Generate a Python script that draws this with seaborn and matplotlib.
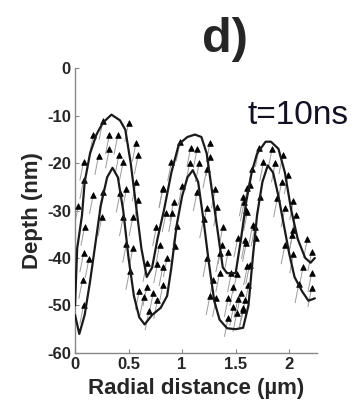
import matplotlib
matplotlib.use("Agg")
import matplotlib.pyplot as plt
import numpy as np
import pandas as pd
import seaborn as sns

# surface profiles (radial distance in um, depth in nm)
upper_x = [0.0, 0.02, 0.065, 0.09, 0.14, 0.2, 0.26, 0.34, 0.42, 0.47, 0.52,
           0.57, 0.62, 0.67, 0.72, 0.77, 0.83, 0.9, 0.97, 1.05, 1.12, 1.18,
           1.23, 1.28, 1.33, 1.38, 1.42, 1.5, 1.55, 1.6, 1.65, 1.7, 1.78,
           1.83, 1.9, 1.96, 2.02, 2.08, 2.15, 2.2, 2.24]
upper_y = [-50, -38, -31, -24, -18, -14, -11.5, -9.8, -11, -13, -20,
           -29, -38, -44, -42, -36, -30, -22, -16, -14.5, -14, -14.5,
           -18, -26, -34, -42, -43.2, -43.2, -36, -28, -22, -18, -15.5,
           -15.5, -17, -22, -30, -36, -40, -41, -40]

lower_x = [0.0, 0.04, 0.09, 0.14, 0.19, 0.24, 0.3, 0.35, 0.4, 0.45, 0.5,
           0.55, 0.6, 0.65, 0.72, 0.8, 0.86, 0.9, 0.95, 1.0, 1.05, 1.1,
           1.15, 1.2, 1.25, 1.3, 1.35, 1.42, 1.5, 1.57, 1.62, 1.66, 1.7,
           1.75, 1.8, 1.85, 1.9, 1.95, 2.0, 2.05, 2.12, 2.18, 2.24]
lower_y = [-52, -56, -52, -45, -37, -29, -23, -21, -23, -30, -40,
           -48, -52.5, -54, -52, -50.5, -48, -42, -33, -27, -23, -21.5,
           -24, -32, -41, -49, -53, -54.8, -55, -54.7, -50, -40, -31,
           -24, -20.5, -22, -27, -33, -39, -44, -47, -49, -48.5]

# tracked points
pts_x = [0.26, 0.50, 0.17, 0.32, 0.40, 0.57, 0.32, 0.41, 0.22, 0.45, 0.08,
         0.59, 0.08, 0.26, 0.17, 0.48, 0.42, 0.57, 0.59, 0.03, 0.25, 0.45,
         0.54, 0.09, 0.82, 0.85,
         0.08, 0.13, 0.07, 0.08, 0.48, 0.54, 0.76, 0.79, 0.51, 0.67, 0.77,
         0.60, 0.67, 0.73, 0.64, 0.82, 0.69, 0.77,
         0.98, 1.08, 1.14, 1.26, 1.07, 1.16, 0.90, 1.23, 1.26, 0.82, 1.00,
         1.14, 1.31, 0.92, 0.91, 1.23, 1.33, 1.20, 1.38, 0.95, 1.57, 1.61,
         1.60,
         0.93, 0.86, 0.82, 1.37, 1.35, 1.43, 1.52, 1.60, 1.23, 1.35, 1.46,
         1.51, 1.29, 1.61, 1.48, 1.32, 1.43, 1.55, 1.52, 1.48, 1.57, 1.51,
         1.43, 1.26,
         1.72, 1.84, 1.94, 1.76, 1.87, 1.65, 1.99, 1.63, 1.93, 1.73, 1.89,
         2.04, 1.58, 1.96, 1.66, 2.06, 2.04, 1.61,
         1.68, 1.59, 1.69, 1.63, 1.62, 1.59, 1.57, 2.03, 2.17, 1.96, 2.04,
         2.21, 2.13, 2.21, 2.09, 2.21]
pts_y = [-11.1, -11.5, -14.1, -14.1, -14.1, -15.7, -17.1, -18.3, -18.5,
         -19.7, -19.7, -18.3, -23.6, -26.1, -26.7, -25.5, -26.4, -24.0,
         -27.8, -29.1, -31.4, -31.4, -31.4, -33.4, -25.5, -30.5,
         -39.0, -40.2, -44.6, -49.9, -37.0, -38.0, -33.5, -37.3, -42.7,
         -41.0, -41.3, -46.9, -46.1, -47.4, -48.2, -45.7, -51.2, -48.8,
         -15.6, -16.8, -17.1, -15.8, -20.0, -20.0, -19.8, -21.3, -18.7,
         -25.3, -24.8, -26.1, -25.5, -28.2, -30.5, -29.5, -29.3, -31.8,
         -33.5, -33.3, -27.2, -25.3, -29.9,
         -37.5, -40.0, -41.9, -37.3, -39.0, -38.7, -35.8, -36.8, -40.0,
         -43.2, -43.2, -43.4, -44.6, -41.7, -46.1, -48.4, -48.4, -47.4,
         -48.6, -50.3, -50.5, -51.6, -52.6, -48.0,
         -16.8, -17.1, -18.3, -19.8, -20.0, -21.3, -22.5, -24.6, -24.0,
         -27.2, -27.4, -28.0, -28.2, -29.5, -33.0, -30.9, -34.1, -30.3,
         -33.5, -36.2, -35.8, -41.5, -45.7, -48.8, -50.9, -35.2, -36.0,
         -37.3, -39.2, -38.7, -41.9, -43.2, -45.5, -46.3]

# arrow tail (same for every point)
tail_dx = -0.035
tail_dy = -4.0

x_ticks = [0, 0.5, 1, 1.5, 2]
x_tick_labels = ["0", "0.5", "1", "1.5", "2"]
y_ticks = [0, -10, -20, -30, -40, -50, -60]
y_tick_labels = ["0", "-10", "-20", "-30", "-40", "-50", "-60"]


def main() -> None:
    sns.set_style("white")
    plt.rcParams["font.family"] = ["Liberation Sans", "DejaVu Sans"]

    fig = plt.figure(figsize=(3.59, 4.08), dpi=100)
    ax = fig.add_axes([0.209, 0.135, 0.674, 0.698])

    points = pd.DataFrame({"x": pts_x, "y": pts_y})
    ax.quiver(points["x"], points["y"],
              np.full(len(points), tail_dx), np.full(len(points), tail_dy),
              angles="xy", scale_units="xy", scale=1, color="#9a9a9a",
              width=0.004, headwidth=1, headlength=0, headaxislength=0)
    sns.scatterplot(data=points, x="x", y="y", ax=ax, marker="^", s=16,
                    color="black", edgecolor="black", linewidth=0.6,
                    zorder=3)

    upper = pd.DataFrame({"x": upper_x, "y": upper_y})
    lower = pd.DataFrame({"x": lower_x, "y": lower_y})
    sns.lineplot(data=upper, x="x", y="y", ax=ax, sort=False,
                 color="#1a1a1a", linewidth=1.6, zorder=4)
    sns.lineplot(data=lower, x="x", y="y", ax=ax, sort=False,
                 color="#1a1a1a", linewidth=1.6, zorder=4)

    ax.set_xlim(0, 2.26)
    ax.set_ylim(-60, 0)
    ax.set_xticks(x_ticks)
    ax.set_xticklabels(x_tick_labels, fontweight="bold", fontsize=12)
    ax.set_yticks(y_ticks)
    ax.set_yticklabels(y_tick_labels, fontweight="bold", fontsize=12)
    ax.tick_params(direction="in", length=3, width=0.8, color="#888888",
                   pad=3, bottom=True, left=True)

    for side in ["top", "right"]:
        ax.spines[side].set_visible(False)
    for side in ["left", "bottom"]:
        ax.spines[side].set_color("#888888")
        ax.spines[side].set_linewidth(1.0)

    ax.set_xlabel("Radial distance (\u00b5m)", fontweight="bold",
                  fontsize=16, labelpad=4)
    ax.set_ylabel("Depth (nm)", fontweight="bold", fontsize=16, labelpad=3)

    ax.text(2.08, -9.9, "t=10ns", fontsize=24, color="#111122",
            ha="center", va="center", clip_on=False)
    fig.text(0.627, 0.902, "d)", fontsize=35, fontweight="bold",
             ha="center", va="center")

    fig.savefig("out.png", dpi=100)
    plt.close(fig)


if __name__ == "__main__":
    main()
